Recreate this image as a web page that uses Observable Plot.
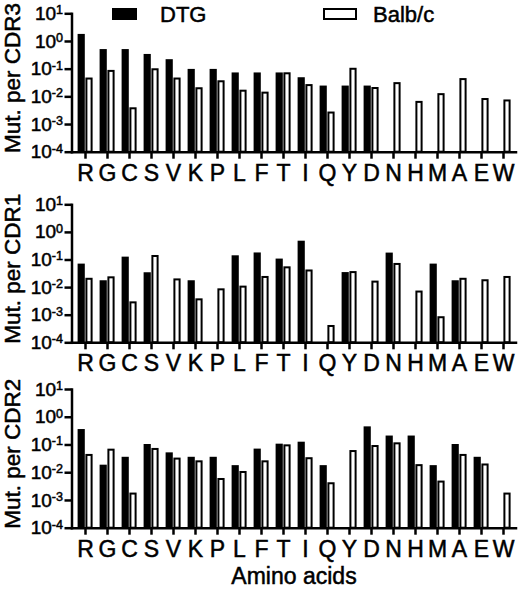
<!DOCTYPE html>
<html>
<head>
<meta charset="utf-8">
<script src="https://cdn.jsdelivr.net/npm/d3@7"></script>
<script src="https://cdn.jsdelivr.net/npm/@observablehq/plot@0.6"></script>
<style>
  html, body { margin: 0; padding: 0; background: white; }
  #wrap { position: relative; width: 520px; height: 591px; font-family: "Liberation Sans", Arial, sans-serif; color: black; }
  #wrap svg { display: block; }
  .lg-box { position: absolute; box-sizing: border-box; }
  .lg-text { position: absolute; font-size: 22px; line-height: 22px; white-space: nowrap; -webkit-text-stroke: 0.5px black; }
</style>
</head>
<body>
<div id="wrap"></div>
<script>
// ---- Data ----
const aminoAcids = ["R","G","C","S","V","K","P","L","F","T","I","Q","Y","D","N","H","M","A","E","W"];
const seriesNames = ["DTG", "Balb/c"];

const cdr3DTG  = [1.8, 0.51, 0.51, 0.34, 0.22, 0.098, 0.098, 0.073, 0.073, 0.073, 0.049, 0.0245, 0.0245, 0.0245, null, null, null, null, null, null];
const cdr3Balb = [0.044, 0.083, 0.0037, 0.095, 0.044, 0.0196, 0.035, 0.016, 0.0136, 0.068, 0.0255, 0.0026, 0.099, 0.020, 0.030, 0.0063, 0.012, 0.042, 0.0080, 0.0071];

const cdr1DTG  = [0.071, 0.0177, 0.127, 0.0345, null, 0.0177, null, 0.142, 0.18, 0.108, 0.48, null, 0.035, null, 0.178, null, 0.071, 0.0177, null, null];
const cdr1Balb = [0.020, 0.0226, 0.0028, 0.134, 0.019, 0.0036, 0.0083, 0.0104, 0.0233, 0.052, 0.040, 0.00039, 0.035, 0.0158, 0.069, 0.0069, 0.00081, 0.020, 0.0177, 0.0233];

const cdr2DTG  = [0.36, 0.0187, 0.036, 0.104, 0.052, 0.036, 0.036, 0.018, 0.071, 0.107, 0.126, 0.018, null, 0.45, 0.21, 0.21, 0.018, 0.104, 0.036, null];
const cdr2Balb = [0.042, 0.065, 0.0017, 0.069, 0.031, 0.0247, 0.0057, 0.0102, 0.0247, 0.093, 0.032, 0.0040, 0.058, 0.088, 0.11, 0.018, 0.0046, 0.042, 0.019, 0.0017];

const yTicks = [1e-4, 1e-3, 1e-2, 1e-1, 1, 10];
const yTickExponents = ["-4", "-3", "-2", "-1", "0", "1"];
const yBase = 1e-4;

const panelLabels = ["Mut. per CDR3", "Mut. per CDR1", "Mut. per CDR2"];
const xLabel = "Amino acids";

// ---- Drawing ----
const FONT = "Liberation Sans, Arial, Helvetica, sans-serif";
const wrap = document.getElementById("wrap");

function panel(yLabel, dtg, balb, layout) {
  const rows = aminoAcids.map((aa, i) => ({aa, dtg: dtg[i], balb: balb[i]}));
  const svg = Plot.plot({
    width: 520,
    height: layout.height,
    marginLeft: 71.5,
    marginRight: 4.5,
    marginTop: layout.marginTop,
    marginBottom: layout.marginBottom,
    style: {fontFamily: FONT, color: "black", background: "white", overflow: "visible"},
    x: {type: "band", domain: aminoAcids, padding: 0},
    y: {type: "log", domain: [yBase, 10]},
    marks: [
      Plot.barY(rows.filter(d => d.dtg != null), {x: "aa", y1: yBase, y2: "dtg", fill: "black", insetLeft: 3.6, insetRight: 11.2}),
      Plot.barY(rows.filter(d => d.balb != null), {x: "aa", y1: yBase, y2: "balb", fill: "white", stroke: "black", strokeWidth: 2, insetLeft: 12.4, insetRight: 4.4}),
      Plot.axisY({
        ticks: yTicks,
        tickFormat: d => "10^" + yTickExponents[yTicks.indexOf(d)],
        tickSize: 7, tickPadding: 2, strokeWidth: 2.5, fontSize: 19, label: null
      }),
      Plot.text([yLabel], {frameAnchor: "left", rotate: -90, dx: -67.5, dy: -5, lineAnchor: "top", textAnchor: "middle", fontSize: 22.5, fill: "black", stroke: "black", strokeWidth: 0.5}),
      Plot.axisX({
        tickSize: 7, tickPadding: 5, strokeWidth: 2.5, fontSize: 23,
        label: layout.xLabel, labelAnchor: "center", labelOffset: layout.labelOffset || 0, labelArrow: "none"
      }),
      Plot.frame({anchor: "left", strokeWidth: 2.5}),
      Plot.frame({anchor: "bottom", strokeWidth: 2.5})
    ]
  });
  // superscript exponents on tick labels
  svg.querySelectorAll("text").forEach(t => {
    const m = t.textContent.match(/^10\^(-?\d+)$/);
    if (m) {
      t.textContent = "10";
      const ts = document.createElementNS("http://www.w3.org/2000/svg", "tspan");
      ts.setAttribute("dy", "-0.45em");
      ts.setAttribute("font-size", "0.66em");
      ts.textContent = m[1];
      t.appendChild(ts);
    }
    // slightly heavier text, like the reference
    t.setAttribute("stroke", "black");
    t.setAttribute("stroke-width", "0.5");
  });
  return svg;
}

wrap.appendChild(panel(panelLabels[0], cdr3DTG, cdr3Balb, {height: 187, marginTop: 13.3, marginBottom: 35.3, xLabel: null}));
wrap.appendChild(panel(panelLabels[1], cdr1DTG, cdr1Balb, {height: 187, marginTop: 17.3, marginBottom: 31.7, xLabel: null}));
wrap.appendChild(panel(panelLabels[2], cdr2DTG, cdr2Balb, {height: 217, marginTop: 15, marginBottom: 63.3, xLabel: xLabel, labelOffset: 56}));

// legend (HTML, overlaid on the top panel)
const legend = [
  {name: seriesNames[0], box: {left: 112, top: 8, width: 25, height: 12, background: "black"}, textLeft: 160},
  {name: seriesNames[1], box: {left: 323, top: 8, width: 34, height: 12, background: "white", border: "2px solid black"}, textLeft: 373}
];
legend.forEach(l => {
  const b = document.createElement("div");
  b.className = "lg-box";
  Object.entries(l.box).forEach(([k, v]) => b.style[k] = typeof v === "number" ? v + "px" : v);
  wrap.appendChild(b);
  const t = document.createElement("div");
  t.className = "lg-text";
  t.style.left = l.textLeft + "px";
  t.style.top = "3.5px";
  t.textContent = l.name;
  wrap.appendChild(t);
});
</script>
</body>
</html>
